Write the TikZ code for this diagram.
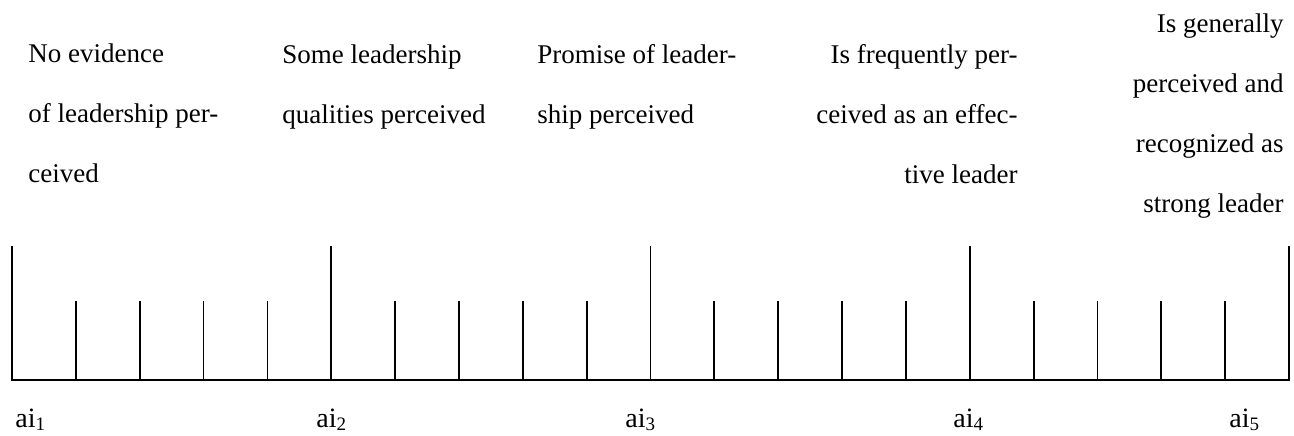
\documentclass[tikz,border=0pt]{standalone}
\usepackage{fontspec}
\setmainfont{Liberation Serif}
\begin{document}
\begin{tikzpicture}[x=0.5pt,y=-0.5pt,
    desc/.style={inner sep=0pt, font=\fontsize{13.5pt}{30pt}\selectfont},
    lbl/.style={inner sep=0pt, anchor=base west, font=\fontsize{14pt}{16pt}\selectfont},
    scaleline/.style={line width=0.9pt, line cap=rect}]
  \useasboundingbox (0,0) rectangle (1294,435);

  % descriptive anchors of the rating scale (placed by their last baseline)
  \node[desc, align=left, anchor=base west] (d1) at (28,182)
    {No evidence\\of leadership per-\\ceived};
  \node[desc, align=left, anchor=base west] (d2) at (282,123)
    {Some leadership\\qualities perceived};
  \node[desc, align=left, anchor=base west] (d3) at (537,123)
    {Promise of leader-\\ship perceived};
  \node[desc, align=right, anchor=base east] (d4) at (1018,183)
    {Is frequently per-\\ceived as an effec-\\tive leader};
  \node[desc, align=right, anchor=base east] (d5) at (1284,212)
    {Is generally\\perceived and\\recognized as\\strong leader};

  % the scale: baseline, major and minor ticks
  \coordinate (s0) at (12,380);
  \coordinate (s1) at (1289,380);
  \draw[scaleline] (s0) -- (s1);
  \foreach \i in {0,...,4} {
    \draw[scaleline] ({12+319.25*\i},380) -- ({12+319.25*\i},247);
  }
  \foreach \i in {0,...,3} {
    \foreach \j in {1,...,4} {
      \draw[scaleline] ({12+319.25*\i+63.85*\j},380) -- ({12+319.25*\i+63.85*\j},302);
    }
  }

  % point labels
  \newcommand\ailabel[1]{ai\raisebox{-0.12em}{\fontsize{9.5pt}{11pt}\selectfont #1}}
  \node[lbl] (a1) at (15,427) {\ailabel{1}};
  \node[lbl] (a2) at (316,427) {\ailabel{2}};
  \node[lbl] (a3) at (625,427) {\ailabel{3}};
  \node[lbl] (a4) at (953,427) {\ailabel{4}};
  \node[lbl] (a5) at (1229,427) {\ailabel{5}};
\end{tikzpicture}
\end{document}
